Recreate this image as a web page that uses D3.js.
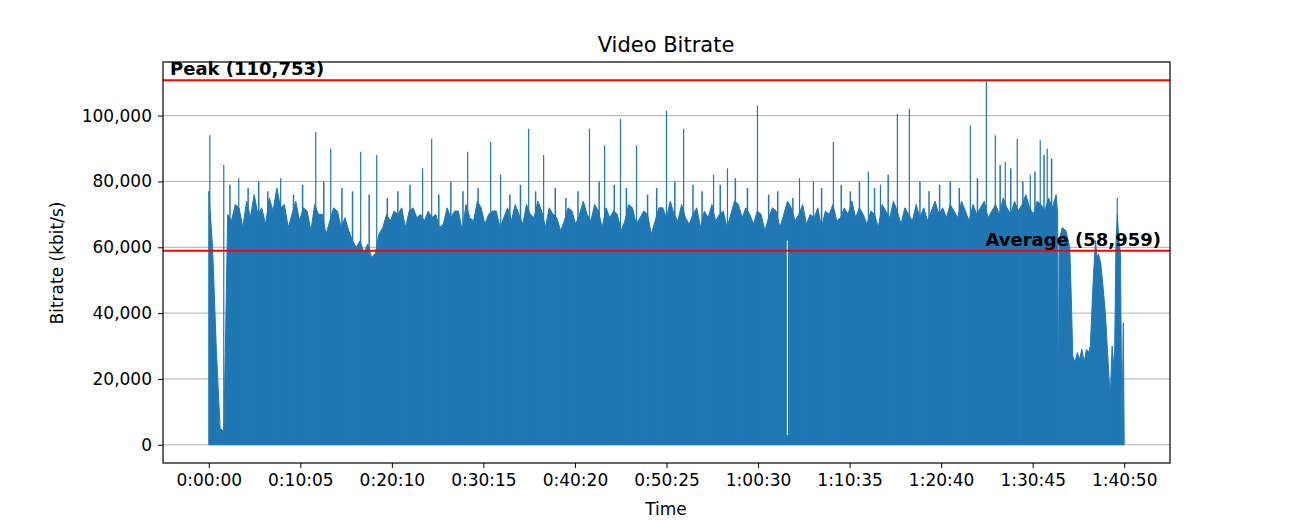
<!DOCTYPE html>
<html>
<head>
<meta charset="utf-8">
<script src="https://cdn.jsdelivr.net/npm/d3@7"></script>
<style>
  body { margin: 0; background: #fff; font-family: "DejaVu Sans", sans-serif; }
</style>
</head>
<body>
<svg id="chart" width="1300" height="520"></svg>
<script>
// bitrate samples (kbit/s, thousands) every 25 s from 0:00:00 to 1:33:20
const bodyValues = [
  77, 60, 29, 5, 4, 70, 68, 73, 72, 66, 74, 69, 76, 70, 72, 67, 75, 71, 78, 72,
  73, 66, 70, 74, 68, 72, 71, 65, 73, 70, 70, 64, 68, 72, 71, 66, 69, 65, 62, 60,
  62, 58, 61, 57, 58, 64, 66, 70, 68, 71, 70, 72, 66, 71, 72, 69, 70, 68, 71, 69,
  70, 66, 67, 72, 69, 71, 71, 65, 73, 69, 68, 74, 72, 67, 70, 71, 71, 66, 69, 72,
  68, 73, 70, 67, 73, 70, 69, 74, 71, 66, 72, 70, 69, 65, 68, 72, 71, 67, 70, 74,
  70, 68, 73, 71, 66, 72, 69, 71, 70, 65, 68, 73, 72, 67, 69, 71, 70, 64, 68, 72,
  72, 69, 74, 70, 68, 73, 69, 67, 70, 72, 66, 71, 69, 73, 68, 70, 71, 66, 70, 74,
  73, 69, 72, 70, 67, 71, 70, 65, 69, 72, 71, 66, 70, 74, 72, 68, 70, 73, 67, 70,
  69, 72, 66, 71, 70, 73, 68, 69, 72, 70, 74, 69, 72, 70, 67, 71, 70, 66, 73, 71,
  69, 74, 71, 67, 72, 70, 68, 73, 69, 72, 68, 71, 74, 70, 72, 69, 73, 71, 69, 74,
  71, 68, 73, 70, 72, 74, 69, 71, 73, 70, 75, 72, 70, 74, 71, 73, 76, 72, 70, 74,
  73, 71, 75, 72, 74, 76, 72, 73, 77, 74, 72, 75, 73
];
// ending section (seconds, thousands)
const tailTimes  = [5600, 5610, 5614, 5620, 5640, 5665, 5690, 5700, 5710, 5725, 5740, 5755, 5770, 5785, 5800, 5815, 5826, 5845, 5860, 5870, 5880, 5895, 5910, 5925, 5940, 5950, 5958, 5970, 5985, 5995, 6004, 6015, 6025, 6035, 6044, 6050];
const tailValues = [76, 70, 3, 62, 66, 65, 60, 45, 27, 25, 28, 26, 29, 25, 29, 28, 30, 50, 62, 57, 58, 55, 48, 40, 28, 20, 15, 30, 22, 60, 70, 62, 58, 5, 37, 0];
// tall spikes
const spikeTimes  = [7, 99, 198, 475, 707, 806, 1004, 1110, 1413, 1473, 1711, 1863, 1929, 2114, 2213, 2516, 2616, 2721, 2827, 3025, 3138, 3336, 3428, 3626, 3904, 3996, 4128, 4359, 4439, 4551, 4630, 5033, 5139, 5198, 5264, 5343, 5429, 5495, 5541, 6004];
const spikeValues = [94, 85, 81, 81, 95, 90, 89, 88, 84, 93, 89, 92, 82, 96, 88, 96, 91, 99, 91, 101.5, 96, 82, 84, 103, 81, 80, 92, 83, 79, 100.5, 102, 97, 110.753, 94, 86, 93, 82, 92.5, 90, 75];
// medium peaks above the dense band
const minorTimes  = [140, 260, 330, 390, 560, 620, 760, 880, 950, 1060, 1180, 1250, 1330, 1520, 1600, 1680, 1780, 1990, 2060, 2160, 2290, 2360, 2440, 2580, 2680, 2760, 2900, 2960, 3080, 3200, 3260, 3380, 3480, 3560, 3700, 3760, 3860, 4050, 4180, 4240, 4300, 4400, 4490, 4700, 4760, 4830, 4900, 4960, 5080, 5230, 5300, 5380, 5460, 5520, 5570];
const minorValues = [79, 78, 80, 77, 76, 79, 80, 78, 77, 76, 75, 77, 79, 76, 80, 77, 78, 76, 79, 77, 78, 75, 77, 80, 79, 78, 76, 78, 80, 79, 77, 79, 81, 78, 76, 77, 75, 78, 79, 77, 80, 78, 82, 80, 77, 79, 80, 78, 81, 85, 84, 80, 83, 88, 87];
// narrow dropouts
const dipTimes  = [3824];
const dipValues = [3];

const peak = 110753, average = 58959;
const xTicks = [0, 605, 1210, 1815, 2420, 3025, 3630, 4235, 4840, 5445, 6050];
const yTicks = [0, 20000, 40000, 60000, 80000, 100000];

const fmtTime = s => {
  const h = Math.floor(s / 3600), m = Math.floor((s % 3600) / 60), sec = s % 60;
  return `${h}:${String(m).padStart(2, "0")}:${String(sec).padStart(2, "0")}`;
};

const svg = d3.select("#chart");
const pLeft = 163, pRight = 1170, pTop = 62, pBottom = 463;

const x = d3.scaleLinear().domain([-302.5, 6352.5]).range([pLeft, pRight]);
const y = d3.scaleLinear().domain([-5538, 116291]).range([pBottom, pTop]);

// grid
svg.append("g").selectAll("line").data(yTicks).join("line")
  .attr("x1", pLeft).attr("x2", pRight)
  .attr("y1", d => y(d)).attr("y2", d => y(d))
  .attr("stroke", "#b0b0b0").attr("stroke-width", 1);

// main series
let pts = bodyValues.map((v, i) => [i * 25, v * 1000]).filter(d => d[0] < 5600);
pts = pts.concat(tailTimes.map((t, i) => [t, tailValues[i] * 1000]));
pts.unshift([0, 0]);

const area = d3.area().x(d => x(d[0])).y0(y(0)).y1(d => y(d[1]));
svg.append("path").datum(pts).attr("d", area)
  .attr("fill", "#1f77b4").attr("stroke", "#1f77b4").attr("stroke-width", 1);

svg.append("g").selectAll("line").data(minorTimes).join("line")
  .attr("x1", d => x(d)).attr("x2", d => x(d))
  .attr("y1", y(0)).attr("y2", (d, i) => y(minorValues[i] * 1000))
  .attr("stroke", "#1f77b4").attr("stroke-width", 1.5);

svg.append("g").selectAll("line").data(spikeTimes).join("line")
  .attr("x1", d => x(d)).attr("x2", d => x(d))
  .attr("y1", y(0)).attr("y2", (d, i) => y(spikeValues[i] * 1000))
  .attr("stroke", "#1f77b4").attr("stroke-width", 1.2);

svg.append("g").selectAll("line").data(dipTimes).join("line")
  .attr("x1", d => x(d)).attr("x2", d => x(d))
  .attr("y1", (d, i) => y(dipValues[i] * 1000)).attr("y2", y(62000))
  .attr("stroke", "#ffffff").attr("stroke-width", 1.2);

// reference lines
[peak, average].forEach(v => {
  svg.append("line").attr("x1", pLeft).attr("x2", pRight)
    .attr("y1", y(v)).attr("y2", y(v))
    .attr("stroke", "#ff0000").attr("stroke-width", 2);
});
svg.append("text").attr("x", 170).attr("y", y(peak) - 5)
  .attr("font-size", 18).attr("font-weight", "bold")
  .text(`Peak (${d3.format(",")(peak)})`);
svg.append("text").attr("x", 1161).attr("y", y(average) - 5)
  .attr("text-anchor", "end").attr("font-size", 18).attr("font-weight", "bold")
  .text(`Average (${d3.format(",")(average)})`);

// frame
svg.append("rect").attr("x", pLeft).attr("y", pTop)
  .attr("width", pRight - pLeft).attr("height", pBottom - pTop)
  .attr("fill", "none").attr("stroke", "#000").attr("stroke-width", 1.2);

// axes
const xAxis = svg.append("g").attr("transform", `translate(0,${pBottom})`)
  .call(d3.axisBottom(x).tickValues(xTicks).tickFormat(fmtTime).tickSize(5).tickPadding(6));
const yAxis = svg.append("g").attr("transform", `translate(${pLeft},0)`)
  .call(d3.axisLeft(y).tickValues(yTicks).tickFormat(d3.format(",")).tickSize(5).tickPadding(6));
[xAxis, yAxis].forEach(a => {
  a.select(".domain").remove();
  a.selectAll("text").attr("font-size", 17).attr("font-family", "DejaVu Sans").attr("fill", "#000");
  a.selectAll("line").attr("stroke", "#000");
});

svg.append("text").attr("x", 666).attr("y", 52).attr("text-anchor", "middle")
  .attr("font-size", 21).text("Video Bitrate");
svg.append("text").attr("x", 666).attr("y", 515).attr("text-anchor", "middle")
  .attr("font-size", 17).text("Time");
svg.append("text").attr("transform", "translate(63,263) rotate(-90)")
  .attr("text-anchor", "middle").attr("font-size", 17).text("Bitrate (kbit/s)");
</script>
</body>
</html>
